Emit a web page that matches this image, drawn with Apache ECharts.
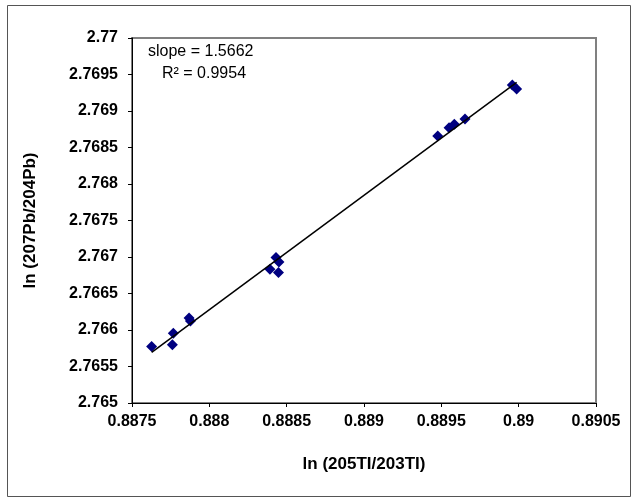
<!DOCTYPE html>
<html lang="en">
  <head>
    <meta charset="UTF-8" />
    <title>Tl isotope fractionation</title>
    <script src="https://cdn.jsdelivr.net/npm/echarts@6.0.0/dist/echarts.min.js"></script>
    <style>
      html, body { margin: 0; padding: 0; background: #fff; }
      #chart { width: 634px; height: 498px; }
    </style>
  </head>
  <body>
    <div id="chart"></div>

    <script>
      // ln(205Tl/203Tl) values
      var lnTl = [
        0.887627, 0.887767, 0.887761, 0.887869, 0.887878,
        0.888392, 0.888431, 0.888450, 0.888447,
        0.889477, 0.889550, 0.889584, 0.889653,
        0.889959, 0.889987
      ]
      // ln(207Pb/204Pb) values
      var lnPb = [
        2.765774, 2.765955, 2.765799, 2.766165, 2.766125,
        2.766832, 2.766993, 2.766932, 2.766788,
        2.768658, 2.768771, 2.768818, 2.768890,
        2.769356, 2.769301
      ]
      var slopeText = "slope = 1.5662"
      var r2Text = "R² = 0.9954"

      var points = lnTl.map(function (x, i) { return [x, lnPb[i]] })

      // least squares trend line, drawn from min x to max x
      var n = lnTl.length
      var mx = lnTl.reduce(function (a, b) { return a + b }, 0) / n
      var my = lnPb.reduce(function (a, b) { return a + b }, 0) / n
      var sxy = 0, sxx = 0
      for (var i = 0; i < n; i++) {
        sxy += (lnTl[i] - mx) * (lnPb[i] - my)
        sxx += (lnTl[i] - mx) * (lnTl[i] - mx)
      }
      var b = sxy / sxx
      var a = my - b * mx
      var x0 = Math.min.apply(null, lnTl)
      var x1 = Math.max.apply(null, lnTl)
      var trend = [[x0, a + b * x0], [x1, a + b * x1]]

      var font = "Liberation Sans, Arial, sans-serif"
      var chart = echarts.init(document.getElementById("chart"))

      chart.setOption({
        animation: false,
        backgroundColor: "#fff",
        grid: {
          left: 132, right: 38, top: 38, bottom: 95,
          show: true, borderColor: "#808080", borderWidth: 2, backgroundColor: "#fff"
        },
        xAxis: {
          type: "value",
          min: 0.8875, max: 0.8905, interval: 0.0005,
          name: "ln (205TI/203TI)",
          nameLocation: "middle", nameGap: 53,
          nameTextStyle: { fontFamily: font, fontSize: 17, fontWeight: "bold", color: "#000" },
          axisLine: { show: true, lineStyle: { color: "#000", width: 1 } },
          axisTick: { show: true, length: 4, lineStyle: { color: "#000" } },
          axisLabel: {
            fontFamily: font, fontSize: 16, fontWeight: "bold", color: "#000", margin: 11,
            formatter: function (v) { return String(+v.toFixed(4)) }
          },
          splitLine: { show: false }
        },
        yAxis: {
          type: "value",
          min: 2.765, max: 2.77, interval: 0.0005,
          name: "ln (207Pb/204Pb)",
          nameLocation: "middle", nameGap: 93, nameRotate: 90,
          nameTextStyle: { fontFamily: font, fontSize: 17, fontWeight: "bold", color: "#000" },
          axisLine: { show: true, lineStyle: { color: "#000", width: 1 } },
          axisTick: { show: true, length: 4, lineStyle: { color: "#000" } },
          axisLabel: {
            fontFamily: font, fontSize: 16, fontWeight: "bold", color: "#000", margin: 14,
            formatter: function (v) { return String(+v.toFixed(4)) }
          },
          splitLine: { show: false }
        },
        graphic: [
          {
            type: "rect", left: 5, top: 3, silent: true, z: -10,
            shape: { width: 623, height: 491 },
            style: { fill: "none", stroke: "#555", lineWidth: 1 }
          },
          {
            type: "text", left: 148, top: 44,
            style: { text: slopeText, font: "16px " + font, fill: "#000" }
          },
          {
            type: "text", left: 162, top: 66,
            style: { text: r2Text, font: "16px " + font, fill: "#000" }
          }
        ],
        series: [
          {
            type: "line",
            data: trend,
            symbol: "none",
            lineStyle: { color: "#000", width: 1.5 },
            z: 3
          },
          {
            type: "scatter",
            data: points,
            symbol: "diamond",
            symbolSize: 11,
            itemStyle: { color: "#000080", opacity: 1 },
            z: 2
          }
        ]
      })
    </script>
  </body>
</html>
